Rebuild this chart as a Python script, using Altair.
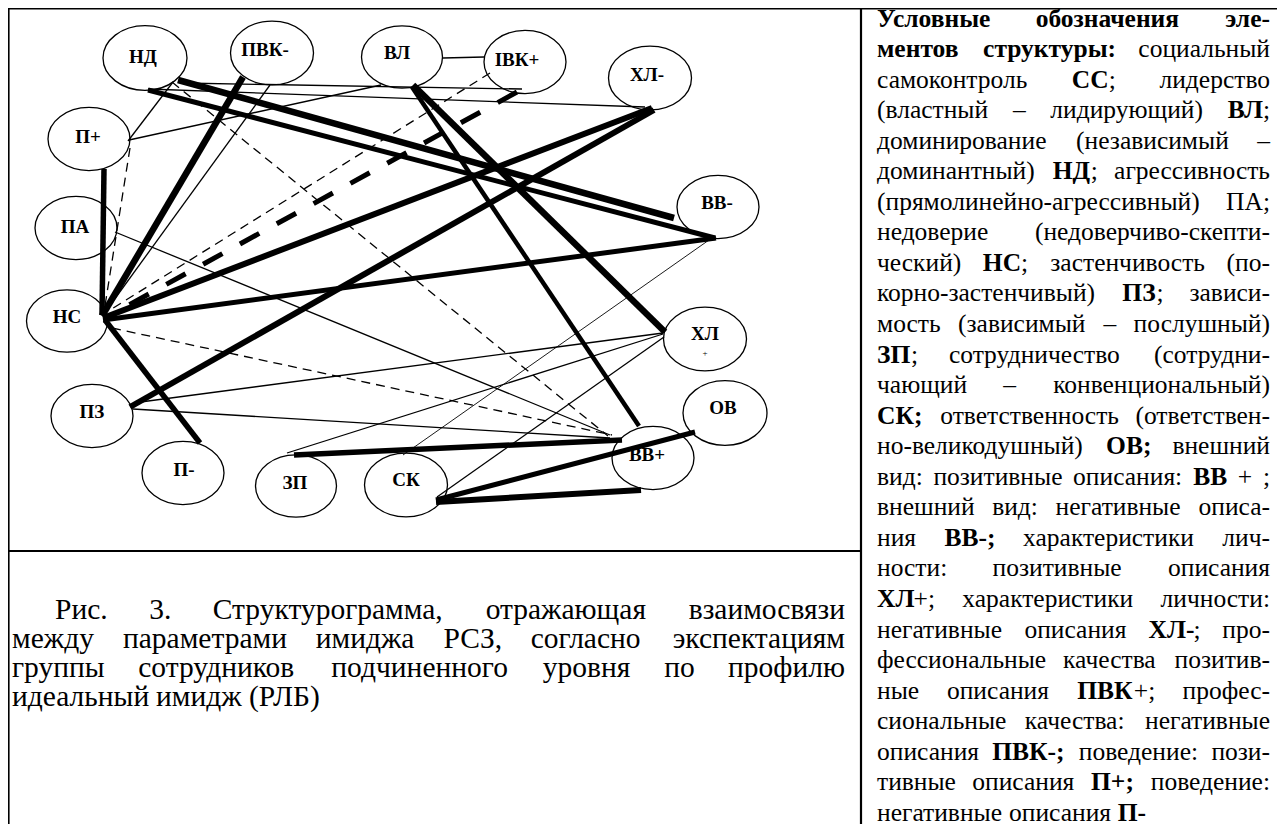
import altair as alt
import pandas as pd

# ---------------- nodes of the structurogram ----------------
node_names = ["НД", "ПВК-", "ВЛ", "IВК+", "ХЛ-", "П+", "ПА", "ВВ-", "НС", "ХЛ+", "ПЗ", "ОВ", "ВВ+", "П-", "ЗП", "СК"]
node_x = [145, 272, 402, 525, 650, 89, 76, 718, 67, 705, 92, 725, 653, 183, 296, 406]
node_y = [58, 53, 57, 62, 78, 139, 228, 207, 321, 339, 416, 413, 458, 473, 486, 485]
node_w = [84, 83, 81, 82, 83, 82, 82, 82, 81, 83, 82, 84, 82, 82, 81, 83]
label_text = ["НД", "ПВК-", "ВЛ", "IВК+", "ХЛ-", "П+", "ПА", "ВВ-", "НС", "ХЛ", "ПЗ", "ОВ", "ВВ+", "П-", "ЗП", "СК"]
label_x = [143, 265, 397, 517, 647, 88, 75, 717, 67, 705, 92, 723, 647, 184, 295, 406]
label_y = [57, 50, 53, 60, 75, 137, 227, 203, 317, 334, 412, 408, 455, 470, 483, 480]

# ---------------- links ----------------
edge_from = ["НД", "НД", "ПВК-", "ВЛ", "ВЛ", "ХЛ-", "ХЛ-", "ВВ-", "П+", "НС", "ЗП", "СК", "СК",
             "НД", "НД", "НД", "ПВК-", "ВЛ", "ВЛ", "ПА", "ПЗ", "ПЗ", "ЗП", "СК", "ВВ-",
             "НД", "IВК+", "П+", "НС", "IВК+"]
edge_to = ["ВВ-", "ВВ-", "НС", "ХЛ+", "ВВ+", "НС", "ПЗ", "НС", "НС", "П-", "ВВ+", "ВВ+", "ОВ",
           "П+", "IВК+", "ХЛ-", "НС", "IВК+", "П+", "ВВ+", "ХЛ+", "ВВ+", "ХЛ+", "ХЛ+", "СК",
           "ВВ+", "НС", "НС", "ВВ+", "НС"]
edge_x1 = [178, 148, 243, 413, 412, 652, 654, 716, 104, 105, 294, 436, 436,
           173, 182, 148, 270, 443, 381, 115, 133, 133, 287, 437, 709,
           172, 490, 130, 112, 517]
edge_y1 = [80, 90, 77, 85, 87, 108, 110, 238, 169, 320, 455, 502, 500,
           82, 83, 89, 85, 58, 85, 232, 403, 409, 453, 497, 240,
           82, 73, 148, 328, 92]
edge_x2 = [674, 715, 102, 665, 639, 103, 130, 103, 102, 200, 622, 641, 695,
           128, 522, 645, 106, 484, 129, 610, 663, 610, 663, 664, 403,
           608, 110, 104, 612, 116]
edge_y2 = [218, 238, 316, 332, 426, 318, 407, 320, 315, 443, 440, 490, 432,
           141, 89, 107, 311, 57, 140, 435, 333, 438, 334, 337, 455,
           436, 310, 312, 435, 312]
edge_width = [6.5, 5, 6.5, 6.5, 4.5, 6, 6, 5, 5.5, 5.5, 5.5, 6, 5,
              1.3, 1.3, 1.3, 1.3, 1.3, 1.3, 1.3, 1.3, 1.3, 1.3, 1.3, 0.9,
              1.3, 1.3, 1.3, 1.3, 5]
edge_style = ["solid"] * 25 + ["dash"] * 4 + ["dashthick"]

# ---------------- texts ----------------
legend_lines = [
    "**Условные обозначения эле-**",
    "**ментов структуры:** социальный",
    "самоконтроль **СС**; лидерство",
    "(властный – лидирующий) **ВЛ**;",
    "доминирование (независимый –",
    "доминантный) **НД**; агрессивность",
    "(прямолинейно-агрессивный) ПА;",
    "недоверие (недоверчиво-скепти-",
    "ческий) **НС**; застенчивость (по-",
    "корно-застенчивый) **ПЗ**; зависи-",
    "мость (зависимый – послушный)",
    "**ЗП**; сотрудничество (сотрудни-",
    "чающий – конвенциональный)",
    "**СК;** ответственность (ответствен-",
    "но-великодушный) **ОВ;** внешний",
    "вид: позитивные описания: **ВВ** + ;",
    "внешний вид: негативные описа-",
    "ния **ВВ-;** характеристики лич-",
    "ности: позитивные описания",
    "**ХЛ**+; характеристики личности:",
    "негативные описания **ХЛ-**; про-",
    "фессиональные качества позитив-",
    "ные описания **ПВК**+; профес-",
    "сиональные качества: негативные",
    "описания **ПВК-;** поведение: пози-",
    "тивные описания **П+;** поведение:",
    "негативные описания **П-**",
]
caption_lines = [
    "Рис. 3. Структурограмма, отражающая взаимосвязи",
    "между параметрами имиджа РСЗ, согласно экспектациям",
    "группы сотрудников подчиненного уровня по профилю",
    "идеальный имидж (РЛБ)",
]

# approximate glyph advance widths (per 1000 em) of a Times-like serif
REG = dict(zip("абвгдежзийклмнопрстуфхцчшщъыьэюя",
               [444, 509, 472, 410, 509, 444, 691, 395, 535, 535, 486, 499, 633, 535, 500, 535,
                500, 444, 437, 500, 648, 500, 535, 503, 770, 770, 517, 672, 456, 429, 747, 486]))
REG.update(dict(zip("АБВГДЕЖЗИКЛМНОПРСТУФХЦЧШЩЭЮЯ",
                    [722, 574, 667, 578, 682, 611, 896, 501, 722, 683, 678, 889, 722, 722, 722, 556,
                     667, 611, 637, 790, 722, 722, 668, 1000, 1000, 667, 1008, 667])))
REG.update({" ": 250, ".": 250, ",": 250, ":": 278, ";": 278, "(": 333, ")": 333,
            "-": 333, "–": 500, "+": 564, "3": 500})
BOLD = dict(zip("абвгдежзийклмнопрстуфхцчшщъыьэюя",
                [500, 500, 528, 438, 553, 444, 848, 436, 585, 585, 567, 547, 700, 584, 500, 583,
                 556, 444, 455, 500, 700, 500, 588, 563, 833, 839, 576, 779, 514, 444, 750, 553]))
BOLD.update({"А": 722, "В": 667, "Д": 710, "З": 560, "К": 778, "Л": 710, "Н": 778, "О": 778,
             "П": 778, "С": 722, "Х": 722, "У": 722, "Р": 611, "Т": 667, "Э": 722})
BOLD.update({" ": 250, ":": 333, ";": 333, "-": 333, "+": 570, ".": 250})


def tw(s, bold, size):
    t = BOLD if bold else REG
    return sum(t.get(c, 500) for c in s) * size / 1000.0


def parse(line):
    words, cur = [], []
    for k, part in enumerate(line.split("**")):
        b = (k % 2 == 1)
        for ci, ch in enumerate(part.split(" ")):
            if ci > 0 and cur:
                words.append(cur)
                cur = []
            if ch:
                cur.append((ch, b))
    if cur:
        words.append(cur)
    return words


def layout(lines, x0, x1, ys, size, indent=0.0):
    rows = []
    for i, line in enumerate(lines):
        words = parse(line)
        y = ys[i]
        left = x0 + (indent if i == 0 else 0)
        widths = [sum(tw(t, b, size) for t, b in w) for w in words]
        last = (i == len(lines) - 1)
        if len(words) > 1 and not last:
            gap = (x1 - left - sum(widths)) / (len(words) - 1)
        else:
            gap = tw(" ", False, size)
        x = left
        for j, w in enumerate(words):
            if j == len(words) - 1 and not last and len(words) > 1:
                xr = x1
                for t, b in reversed(w):
                    rows.append(dict(x=xr, y=y, text=t, bold=b, align="right", fs=size, base="alphabetic"))
                    xr -= tw(t, b, size)
            else:
                xx = x
                for t, b in w:
                    rows.append(dict(x=xx, y=y, text=t, bold=b, align="left", fs=size, base="alphabetic"))
                    xx += tw(t, b, size)
            x += widths[j] + gap
    return rows


legend_y = [26.5 + 30.55 * i for i in range(len(legend_lines))]
caption_y = [619, 648, 677, 706]

text_rows = layout(legend_lines, 877, 1270, legend_y, 25.5)
text_rows += layout(caption_lines, 12, 845, caption_y, 29.5, indent=43)
for t, x, y in zip(label_text, label_x, label_y):
    text_rows.append(dict(x=x, y=y, text=t, bold=True, align="center", fs=19, base="middle"))
text_rows.append(dict(x=705, y=353, text="+", bold=False, align="center", fs=9, base="middle"))
texts = pd.DataFrame(text_rows)

nodes = pd.DataFrame({"name": node_names, "x": node_x, "y": node_y,
                      "s": [w * w for w in node_w]})
edges = pd.DataFrame({"src": edge_from, "dst": edge_to, "x1": edge_x1, "y1": edge_y1,
                      "x2": edge_x2, "y2": edge_y2, "w": edge_width, "style": edge_style})

frame = pd.DataFrame({"x1": [8, 8.5, 861, 8], "y1": [8.5, 8, 8, 551],
                      "x2": [1285, 8.5, 861, 861], "y2": [8.5, 832, 832, 551],
                      "w": [2.2, 2.2, 2.2, 2.2]})

X = alt.Scale(domain=[8, 1277], nice=False, zero=False)
Y = alt.Scale(domain=[8, 824], nice=False, zero=False, reverse=True)


def rules(df, **kw):
    return alt.Chart(df).mark_rule(color="black", strokeCap="butt", **kw).encode(
        x=alt.X("x1:Q", scale=X, axis=None), x2="x2:Q",
        y=alt.Y("y1:Q", scale=Y, axis=None), y2="y2:Q",
        strokeWidth=alt.StrokeWidth("w:Q", scale=None, legend=None))


ELLIPSE = "M -1 0 A 1 0.77 0 1 1 1 0 A 1 0.77 0 1 1 -1 0 Z"
ellipses = alt.Chart(nodes).mark_point(
    shape=ELLIPSE, filled=True, fill="white", stroke="black", strokeWidth=1.3, opacity=1
).encode(
    x=alt.X("x:Q", scale=X, axis=None), y=alt.Y("y:Q", scale=Y, axis=None),
    size=alt.Size("s:Q", scale=None, legend=None))

text_layers = []
for base in ("alphabetic", "middle"):
    for bold in (False, True):
        for align in ("left", "center", "right"):
            sub = texts[(texts["bold"] == bold) & (texts["align"] == align) & (texts["base"] == base)]
            if len(sub) == 0:
                continue
            text_layers.append(
                alt.Chart(sub).mark_text(font="Liberation Serif",
                                         fontWeight="bold" if bold else "normal",
                                         align=align, baseline=base, color="black").encode(
                    x=alt.X("x:Q", scale=X, axis=None), y=alt.Y("y:Q", scale=Y, axis=None),
                    text="text:N", size=alt.Size("fs:Q", scale=None, legend=None)))

solid = rules(edges[edges["style"] == "solid"])
dashed = rules(edges[edges["style"] == "dash"], strokeDash=[9, 6])
dashed_thick = rules(edges[edges["style"] == "dashthick"], strokeDash=[22, 20])
borders = rules(frame)

chart = alt.layer(borders, ellipses, *text_layers, solid, dashed, dashed_thick).properties(
    width=1269, height=816, padding=0, background="white",
    autosize=alt.AutoSizeParams(type="none")
).configure_view(strokeWidth=0)

chart.save("out.html", embed_options={"renderer": "svg", "actions": False})
